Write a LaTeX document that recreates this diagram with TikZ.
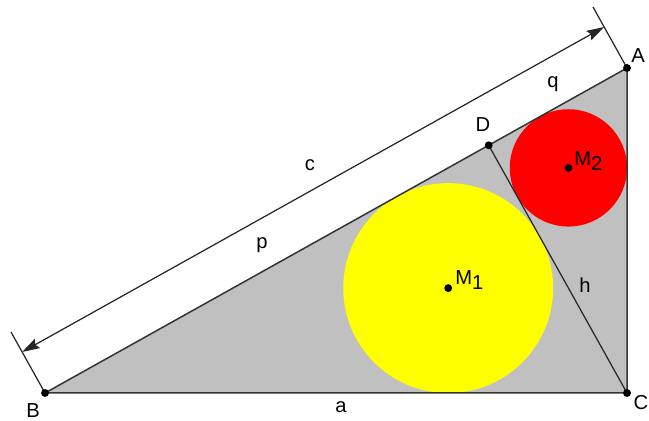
\documentclass[tikz,border=0pt]{standalone}
\usepackage{fontspec}
\setmainfont{Liberation Sans}
\usetikzlibrary{arrows.meta,calc}
\definecolor{triGray}{RGB}{192,192,192}
\definecolor{pureYellow}{RGB}{255,255,0}
\definecolor{pureRed}{RGB}{255,0,0}
\newcommand{\subidx}[1]{\raisebox{-0.45ex}{#1}}
\begin{document}
\begin{tikzpicture}[x=0.02cm,y=-0.02cm,
  edge/.style={draw=black!80,line width=0.85pt},
  thin line/.style={draw=black!85,line width=0.7pt},
  lbl/.style={font=\fontsize{11.5}{13}\selectfont,inner sep=0pt},
  dotpt/.style={circle,fill=black,inner sep=0pt,minimum size=4.5pt},
  dimtip/.tip={Stealth[length=10pt,width=6pt,inset=1.5pt]}]
\useasboundingbox (0,0) rectangle (649,421);
\clip (0,0) rectangle (649,421);
\coordinate (B) at (45,393);
\coordinate (C) at (627,393);
\coordinate (A) at (627,68);
\coordinate (D) at (488.7,145.3);
\coordinate (M1) at (448.2,288.1);
\coordinate (M2) at (568.4,167.9);
% triangle
\fill[triGray] (B) -- (C) -- (A) -- cycle;
\fill[pureYellow] (M1) circle (104.95);
\fill[pureRed] (M2) circle (58.65);
\draw[edge] (B) -- (C) -- (A) -- cycle;
\draw[thin line] (C) -- (D);
% dimension c
\coordinate (Be) at ($(B)+(-34,-61)$);
\coordinate (Ae) at ($(A)+(-34,-61)$);
\coordinate (Bd) at ($(B)+(-22.9,-41)$);
\coordinate (Ad) at ($(A)+(-22.9,-41)$);
\draw[thin line] (B) -- (Be);
\draw[thin line] (A) -- (Ae);
\draw[thin line,dimtip-dimtip] (Bd) -- (Ad);
% points
\node[dotpt] (pB) at (B) {};
\node[dotpt] (pC) at (C) {};
\node[dotpt] (pA) at (A) {};
\node[dotpt] (pD) at (D) {};
\node[dotpt] (pM1) at (M1) {};
\node[dotpt] (pM2) at (M2) {};
% labels
\node[lbl] (lA) at (638,56) {A};
\node[lbl] (lB) at (33,411) {B};
\node[lbl] (lC) at (641,403) {C};
\node[lbl] (lD) at (483,125) {D};
\node[lbl] (la) at (341,407) {a};
\node[lbl] (lb) at (655,225) {b};
\node[lbl] (lc) at (310,165) {c};
\node[lbl] (lp) at (262,245) {p};
\node[lbl] (lq) at (553,84) {q};
\node[lbl] (lh) at (585,285) {h};
\node[lbl,anchor=base west] (lM1) at (455,285) {M\subidx{1}};
\node[lbl,anchor=base west] (lM2) at (574,166) {M\subidx{2}};
\end{tikzpicture}
\end{document}
